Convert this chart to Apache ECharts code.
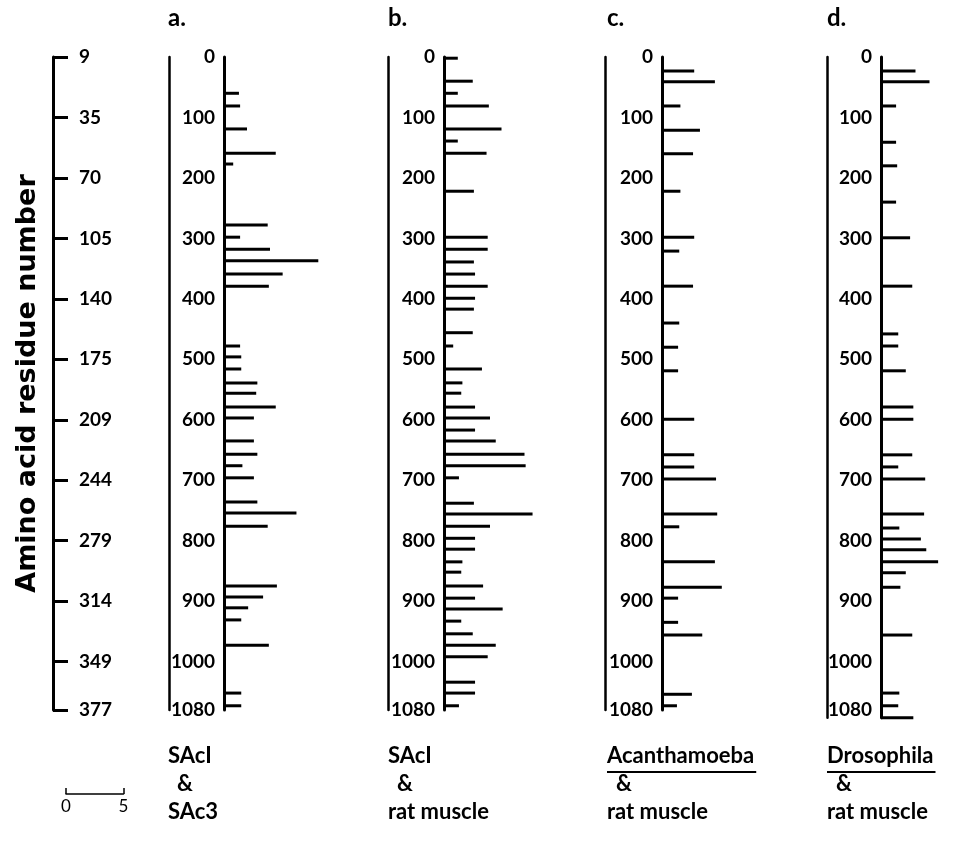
<!DOCTYPE html>
<html>
<head>
<meta charset="utf-8">
<script src="https://cdn.jsdelivr.net/npm/echarts@6/dist/echarts.min.js"></script>
<style>
    html, body { margin: 0; background: #fff; }
    #chart { width: 978px; height: 842px; }
</style>
</head>
<body>
<div id="chart"></div>
<script>
    // nucleotide tick positions and the matching amino acid residue labels
    const nucTicks = [0, 100, 200, 300, 400, 500, 600, 700, 800, 900, 1000, 1080]
    const residueLabels = ['9', '35', '70', '105', '140', '175', '209', '244', '279', '314', '349', '377']

    // a. SAc1 & SAc3 : position (nt), mismatch count
    const aPos = [60, 81, 119, 159, 177, 278, 298, 318, 337, 359, 379, 478, 496, 516, 539, 556, 579, 597, 635, 657, 676, 696, 736, 754, 776, 875, 893, 911, 931, 973, 1052, 1073]
    const aLen = [1.3, 1.4, 2.0, 4.5, 0.8, 3.8, 1.4, 4.0, 8.2, 5.1, 3.9, 1.4, 1.5, 1.5, 2.9, 2.8, 4.5, 2.6, 2.6, 2.9, 1.6, 2.6, 2.9, 6.3, 3.8, 4.6, 3.4, 2.1, 1.5, 3.9, 1.5, 1.5]

    // b. SAc1 & rat muscle
    const bPos = [2, 40, 60, 81, 119, 139, 159, 222, 298, 318, 339, 359, 379, 399, 417, 456, 478, 516, 539, 556, 579, 597, 617, 635, 657, 676, 696, 738, 756, 776, 796, 814, 835, 852, 875, 895, 913, 933, 954, 973, 992, 1034, 1052, 1073]
    const bLen = [1.2, 2.5, 1.2, 3.9, 5.0, 1.2, 3.7, 2.6, 3.8, 3.8, 2.6, 2.7, 3.8, 2.7, 2.6, 2.5, 0.8, 3.3, 1.6, 1.5, 2.7, 4.0, 2.7, 4.5, 7.0, 7.1, 1.3, 2.6, 7.7, 4.0, 2.7, 2.7, 1.6, 1.5, 3.4, 2.7, 5.1, 1.5, 2.5, 4.5, 3.8, 2.7, 2.7, 1.3]

    // c. Acanthamoeba & rat muscle
    const cPos = [23, 41, 81, 121, 160, 222, 298, 321, 379, 440, 480, 519, 599, 658, 678, 698, 756, 777, 835, 877, 895, 935, 956, 1054, 1073]
    const cLen = [2.8, 4.6, 1.6, 3.3, 2.7, 1.6, 2.8, 1.5, 2.7, 1.5, 1.4, 1.4, 2.8, 2.8, 2.8, 4.7, 4.8, 1.5, 4.6, 5.2, 1.4, 1.4, 3.5, 2.6, 1.3]

    // d. Drosophila & rat muscle
    const dPos = [23, 41, 81, 141, 180, 240, 299, 379, 458, 478, 519, 579, 599, 658, 678, 698, 756, 779, 797, 815, 835, 853, 877, 956, 1052, 1073, 1093]
    const dLen = [3.2, 4.5, 1.4, 1.4, 1.5, 1.4, 2.7, 2.9, 1.6, 1.6, 2.3, 3.0, 3.0, 2.9, 1.6, 4.1, 4.0, 1.7, 3.7, 4.2, 5.3, 2.3, 1.8, 2.9, 1.7, 1.6, 3.0]

    const panelTitles = ['a.', 'b.', 'c.', 'd.']
    const pairTop = ['SAcI', 'SAcI', 'Acanthamoeba', 'Drosophila']
    const pairBottom = ['SAc3', 'rat muscle', 'rat muscle', 'rat muscle']
    const scaleTicks = [0, 5]

    const FONT = 'Lato'
    const TOP = 57
    const PX_PER_NT = (710 - 57) / 1080
    const UNIT = 11.5 // px per count, from the 0-5 scale bar

    const panels = [
        { left: 224, thin: 55, max: 1080, pos: aPos, len: aLen },
        { left: 444, thin: 56, max: 1080, pos: bPos, len: bLen },
        { left: 662, thin: 57, max: 1080, pos: cPos, len: cLen },
        { left: 881, thin: 54, max: 1093, pos: dPos, len: dLen }
    ]

    const chart = echarts.init(document.getElementById('chart'), null, { renderer: 'canvas' })

    const grid = []
    const xAxis = []
    const yAxis = []
    const series = []

    const labelStyle = {
        color: '#000',
        fontFamily: FONT,
        fontWeight: 'bold',
        fontSize: 19
    }

    panels.forEach((p, i) => {
        grid.push({ left: p.left, top: TOP, height: p.max * PX_PER_NT, width: 9 * UNIT })
        xAxis.push({ gridIndex: i, type: 'value', min: 0, max: 9, show: false })
        // main axis carrying the nucleotide labels
        yAxis.push({
            gridIndex: i,
            type: 'value',
            inverse: true,
            min: 0,
            max: p.max,
            position: 'left',
            splitLine: { show: false },
            axisLine: { show: true, lineStyle: { color: '#000', width: 3 } },
            axisTick: { show: false },
            axisLabel: Object.assign({
                customValues: nucTicks,
                margin: 9,
                formatter: v => String(v)
            }, labelStyle)
        })
        // thin guide line left of the labels
        yAxis.push({
            gridIndex: i,
            type: 'value',
            inverse: true,
            min: 0,
            max: p.max,
            position: 'left',
            offset: p.thin,
            splitLine: { show: false },
            axisLine: { show: true, lineStyle: { color: '#000', width: 2.5 } },
            axisTick: { show: false },
            axisLabel: { show: false }
        })
        series.push({
            type: 'custom',
            xAxisIndex: i,
            yAxisIndex: 2 * i,
            clip: false,
            encode: { x: 0, y: 1 },
            data: p.pos.map((v, j) => [p.len[j], v]),
            renderItem: function (params, api) {
                const start = api.coord([0, api.value(1)])
                const end = api.coord([api.value(0), api.value(1)])
                return {
                    type: 'line',
                    shape: { x1: start[0], y1: start[1], x2: end[0], y2: end[1] },
                    style: { stroke: '#000', lineWidth: 3 }
                }
            }
        })
    })

    // amino acid residue bracket on the far left
    grid.push({ left: 53, top: TOP, height: 1080 * PX_PER_NT, width: 10 })
    xAxis.push({ gridIndex: 4, type: 'value', show: false })
    yAxis.push({
        gridIndex: 4,
        type: 'value',
        inverse: true,
        min: 0,
        max: 1080,
        position: 'left',
        name: 'Amino acid residue number',
        nameLocation: 'middle',
        nameRotate: 90,
        nameGap: 12,
        nameTextStyle: { color: '#000', fontFamily: 'DejaVu Sans', fontWeight: 'bold', fontSize: 27 },
        splitLine: { show: false },
        axisLine: { show: true, lineStyle: { color: '#000', width: 3 } },
        axisTick: { show: true, inside: true, length: 15, customValues: nucTicks, lineStyle: { color: '#000', width: 3 } },
        axisLabel: Object.assign({
            inside: true,
            margin: 26,
            customValues: nucTicks,
            formatter: v => residueLabels[nucTicks.indexOf(v)]
        }, labelStyle)
    })

    // 0-5 scale bar
    grid.push({ left: 66, top: 781, width: 5 * UNIT, height: 13 })
    xAxis.push({
        gridIndex: 5,
        type: 'value',
        min: 0,
        max: 5,
        position: 'bottom',
        splitLine: { show: false },
        axisLine: { show: true, lineStyle: { color: '#000', width: 1.5 } },
        axisTick: { show: true, inside: true, length: 6, customValues: scaleTicks, lineStyle: { color: '#000', width: 1.5 } },
        axisLabel: { customValues: scaleTicks, margin: 4, color: '#000', fontFamily: FONT, fontSize: 17 }
    })
    yAxis.push({ gridIndex: 5, type: 'value', show: false })

    const BOTTOM_FONT = 'bold 22px ' + FONT
    const measure = document.createElement('canvas').getContext('2d')
    measure.font = BOTTOM_FONT

    const graphic = []
    const textLeft = [168, 388, 607, 827]
    textLeft.forEach((x, i) => {
        graphic.push({
            type: 'text', left: x, top: 6,
            style: { text: panelTitles[i], fill: '#000', font: 'bold 24px ' + FONT }
        })
        graphic.push({
            type: 'text', left: x, top: 745,
            style: { text: pairTop[i], fill: '#000', font: BOTTOM_FONT }
        })
        graphic.push({
            type: 'text', left: x + 9, top: 773,
            style: { text: '&', fill: '#000', font: BOTTOM_FONT }
        })
        graphic.push({
            type: 'text', left: x, top: 801,
            style: { text: pairBottom[i], fill: '#000', font: BOTTOM_FONT }
        })
        // species names are underlined
        if (i >= 2) {
            const w = measure.measureText(pairTop[i]).width
            graphic.push({
                type: 'line',
                shape: { x1: x, y1: 772, x2: x + w + 2, y2: 772 },
                style: { stroke: '#000', lineWidth: 2 }
            })
        }
    })

    chart.setOption({
        animation: false,
        backgroundColor: '#fff',
        grid: grid,
        xAxis: xAxis,
        yAxis: yAxis,
        series: series,
        graphic: graphic
    })
</script>
</body>
</html>
